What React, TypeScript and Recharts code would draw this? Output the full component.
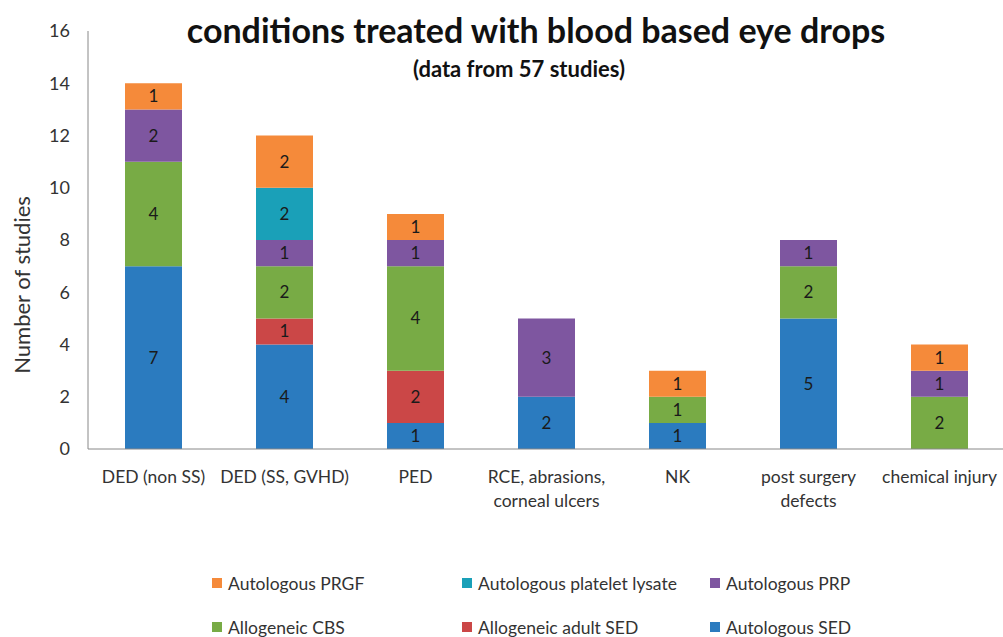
import React from "react";
import { BarChart, Bar, XAxis, YAxis, LabelList } from "recharts";

const categories = ["DED (non SS)", "DED (SS, GVHD)", "PED", "RCE", "NK", "post surgery", "chemical injury"];
const tickLabels = [
  ["DED (non SS)"],
  ["DED (SS, GVHD)"],
  ["PED"],
  ["RCE, abrasions,", "corneal ulcers"],
  ["NK"],
  ["post surgery", "defects"],
  ["chemical injury"],
];
const yTicks = [0, 2, 4, 6, 8, 10, 12, 14, 16];

const autologousSED = [7, 4, 1, 2, 1, 5, 0];
const allogeneicAdultSED = [0, 1, 2, 0, 0, 0, 0];
const allogeneicCBS = [4, 2, 4, 0, 1, 2, 2];
const autologousPRP = [2, 1, 1, 3, 0, 1, 1];
const autologousPlateletLysate = [0, 2, 0, 0, 0, 0, 0];
const autologousPRGF = [1, 2, 1, 0, 1, 0, 1];

const series = [
  { key: "sed", name: "Autologous SED", values: autologousSED, color: "#2B7BBF" },
  { key: "adult", name: "Allogeneic adult SED", values: allogeneicAdultSED, color: "#CB4747" },
  { key: "cbs", name: "Allogeneic CBS", values: allogeneicCBS, color: "#78AB45" },
  { key: "prp", name: "Autologous PRP", values: autologousPRP, color: "#7E56A0" },
  { key: "lysate", name: "Autologous platelet lysate", values: autologousPlateletLysate, color: "#1AA0B8" },
  { key: "prgf", name: "Autologous PRGF", values: autologousPRGF, color: "#F58A3A" },
];

const legendOrder = ["prgf", "lysate", "prp", "cbs", "adult", "sed"];

const data = categories.map((c, i) => {
  const row: any = { category: c, idx: i };
  series.forEach((s) => (row[s.key] = s.values[i]));
  return row;
});

const FONT = "Lato, 'Open Sans', sans-serif";

const XTick = (props: any) => {
  const { x, y, payload } = props;
  const lines = tickLabels[payload.index] || [String(payload.value)];
  return (
    <text x={x} y={y} textAnchor="middle" fontFamily={FONT} fontSize={17.5} fill="#333">
      {lines.map((l: string, i: number) => (
        <tspan key={i} x={x} y={y + 26 + i * 24}>
          {l}
        </tspan>
      ))}
    </text>
  );
};

export default function App() {
  return (
    <div style={{ position: "absolute", left: 0, top: 0, width: 1003, height: 637, overflow: "hidden", background: "#fff" }}>
      <BarChart
        width={1010}
        height={637}
        data={data}
        margin={{ top: 31, right: 5, bottom: 128, left: 0 }}
        barCategoryGap={0}
      >
        <text x={536} y={43} textAnchor="middle" fontFamily={FONT} fontWeight={700} fontSize={34} fill="#111">
          conditions treated with blood based eye drops
        </text>
        <text x={519} y={77} textAnchor="middle" fontFamily={FONT} fontWeight={700} fontSize={22} fill="#111">
          (data from 57 studies)
        </text>
        <XAxis
          dataKey="category"
          height={60}
          stroke="#888"
          tickLine={false}
          interval={0}
          tick={<XTick />}
        />
        <YAxis
          width={88}
          domain={[0, 16]}
          ticks={yTicks}
          stroke="#888"
          tickLine={false}
          tickMargin={12}
          tick={{ fontFamily: FONT, fontSize: 18, fill: "#333" }}
          label={() => (
            <text
              x={30}
              y={285}
              transform="rotate(-90 30 285)"
              textAnchor="middle"
              fontFamily={FONT}
              fontSize={22}
              fill="#333"
            >
              Number of studies
            </text>
          )}
        />
        {series.map((s) => (
          <Bar key={s.key} dataKey={s.key} name={s.name} stackId="a" fill={s.color} barSize={57} isAnimationActive={false}>
            <LabelList
              dataKey={s.key}
              position="center"
              formatter={(v: any) => (v ? v : "")}
              style={{ fontFamily: FONT, fontSize: 17, fill: "#1a1a1a" }}
            />
          </Bar>
        ))}
      </BarChart>
      <div
        style={{
          position: "absolute",
          left: 212,
          top: 573,
          width: 700,
          display: "grid",
          gridTemplateColumns: "250px 248px 200px",
          rowGap: 24,
          fontFamily: FONT,
          fontSize: 17.5,
          color: "#333",
        }}
      >
        {legendOrder.map((k) => {
          const s = series.find((x) => x.key === k)!;
          return (
            <div key={k} style={{ display: "flex", alignItems: "center", height: 20, whiteSpace: "nowrap" }}>
              <span style={{ display: "inline-block", width: 10, height: 10, background: s.color, marginRight: 6, flexShrink: 0 }} />
              <span>{s.name}</span>
            </div>
          );
        })}
      </div>
    </div>
  );
}
